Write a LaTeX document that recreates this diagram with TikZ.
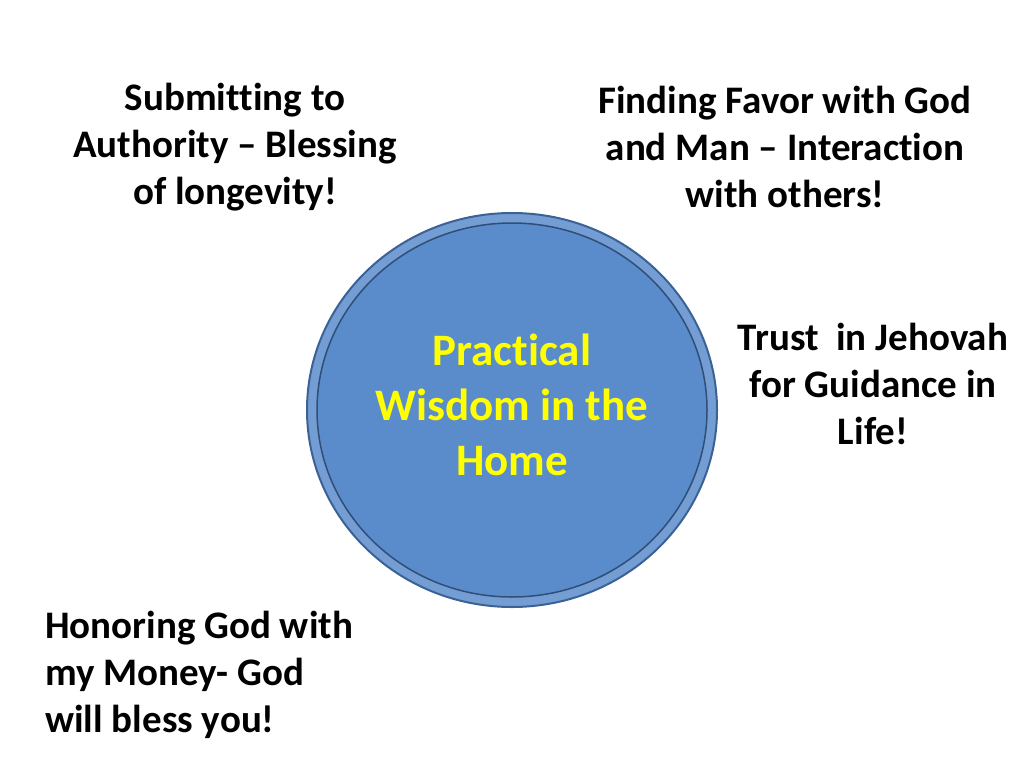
\documentclass[tikz,border=0pt]{standalone}
\usepackage{fontspec}
\setmainfont[Ligatures=NoCommon]{Carlito}
\usetikzlibrary{positioning}
\definecolor{discblue}{HTML}{5A8CCB}
\definecolor{rimblue}{HTML}{3B6296}
\definecolor{wisdomyellow}{HTML}{FFFF00}
\begin{document}
\begin{tikzpicture}[
        x=1pt, y=-1pt,
        topic/.style={align=center, font=\bfseries\fontsize{39}{47}\selectfont, inner sep=0pt},
        hub/.style={align=center, text=wisdomyellow, font=\bfseries\fontsize{45}{55}\selectfont, inner sep=0pt}
    ]
        \useasboundingbox (0,0) rectangle (1024,768);

        % Central disc
        \fill[discblue!85!white, draw=rimblue, line width=2pt] (512,410) ellipse [x radius=205, y radius=197];
        \fill[discblue, draw=rimblue!80!black, line width=1.5pt] (512,410) ellipse [x radius=195, y radius=187];
        \node[hub] (home) at (512,405) {Practical\\Wisdom in the\\Home};

        % Surrounding topics
        \node[topic] (authority) at (235,147) {Submitting to\\Authority -- Blessing\\of longevity!};
        \node[topic] (favor) at (785,147) {Finding Favor with God\\and Man -- Interaction\\with others!};
        \node[topic] (trust) at (873,384) {Trust\ \ in Jehovah\\for Guidance in\\Life!};
        \node[topic, align=left, anchor=west] (money) at (45,675) {Honoring God with\\my Money- God\\will bless you!};
    \end{tikzpicture}
\end{document}
